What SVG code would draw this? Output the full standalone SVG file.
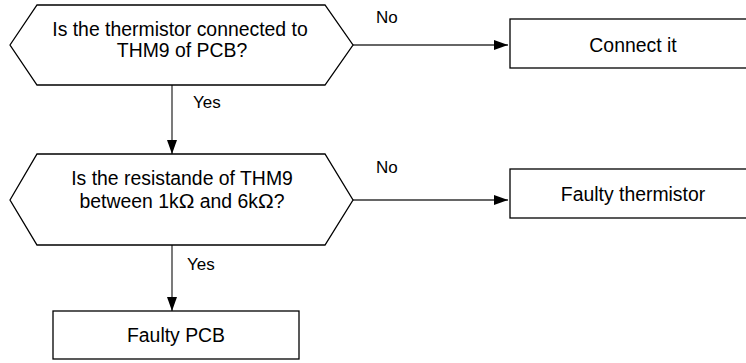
<svg xmlns="http://www.w3.org/2000/svg" width="746" height="363" viewBox="0 0 746 363">
<style>
.shape{fill:#fff;stroke:#000;stroke-width:1.3}
.t{font-family:"Liberation Sans",Arial,sans-serif;font-size:19.4px;fill:#000;text-anchor:middle}
.lbl{font-family:"Liberation Sans",Arial,sans-serif;font-size:17px;fill:#000}
.c{stroke:#333;stroke-width:1.3;fill:none}
.om{font-size:21px}
</style>
<defs>
<marker id="ah" markerWidth="14" markerHeight="10" refX="14" refY="5" orient="auto" markerUnits="userSpaceOnUse">
<path d="M0,0 L14,5 L0,10 Z" fill="#000"/>
</marker>
</defs>
<g id="connectors">
<path class="c" d="M353,45 H508" marker-end="url(#ah)"/>
<path class="c" d="M172,85 V154" marker-end="url(#ah)"/>
<path class="c" d="M353,200 H508" marker-end="url(#ah)"/>
<path class="c" d="M172,245 V311" marker-end="url(#ah)"/>
<text class="lbl" x="376" y="23">No</text>
<text class="lbl" x="193" y="108">Yes</text>
<text class="lbl" x="376" y="173">No</text>
<text class="lbl" x="187" y="270">Yes</text>
</g>
<g id="q1">
<polygon class="shape" points="10,45 37,5 325,5 353,45 325,85 37,85"/>
<text class="t" x="180" y="36">Is the thermistor connected to</text>
<text class="t" x="182" y="57">THM9 of PCB?</text>
</g>
<g id="connect">
<rect class="shape" x="510" y="19" width="246" height="49"/>
<text class="t" x="633" y="52">Connect it</text>
</g>
<g id="q2">
<polygon class="shape" points="10,200 37,154 325,154 353,200 325,245 37,245"/>
<text class="t" x="182" y="185">Is the resistande of THM9</text>
<text class="t" x="182" y="208">between 1k<tspan class="om">Ω</tspan> and 6k<tspan class="om">Ω</tspan>?</text>
</g>
<g id="faultyTherm">
<rect class="shape" x="510" y="169" width="246" height="49"/>
<text class="t" x="633" y="201">Faulty thermistor</text>
</g>
<g id="faultyPCB">
<rect class="shape" x="53" y="311" width="246" height="48"/>
<text class="t" x="176" y="342">Faulty PCB</text>
</g>
</svg>
